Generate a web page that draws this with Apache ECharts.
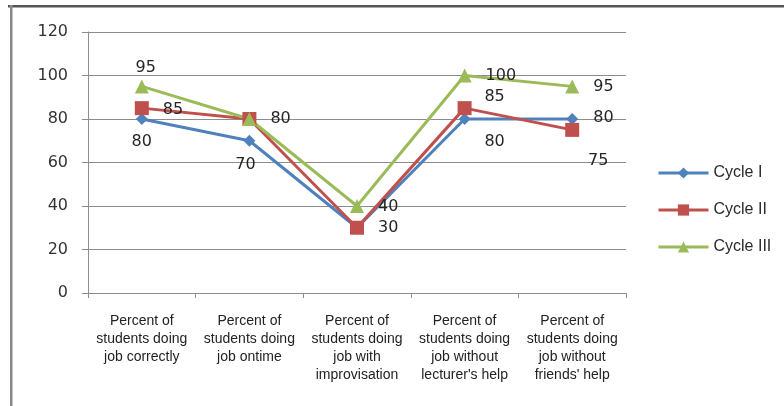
<!DOCTYPE html>
<html>
<head>
<meta charset="utf-8">
<script src="https://cdn.jsdelivr.net/npm/echarts@6/dist/echarts.min.js"></script>
<style>
  html, body { margin: 0; padding: 0; background: #fff; }
  #chart { width: 784px; height: 406px; }
</style>
</head>
<body>
<div id="chart"></div>
<script>
// Categories and the three observation cycles (percent of students)
const categories = [
  "Percent of\nstudents doing\njob correctly",
  "Percent of\nstudents doing\njob ontime",
  "Percent of\nstudents doing\njob with\nimprovisation",
  "Percent of\nstudents doing\njob without\nlecturer's help",
  "Percent of\nstudents doing\njob without\nfriends' help"
];
const cycleI   = [80, 70, 30, 80, 80];
const cycleII  = [85, 80, 30, 85, 75];
const cycleIII = [95, 80, 40, 100, 95];
const yTicks   = [0, 20, 40, 60, 80, 100, 120];

// Where each value label sits: 'r' = to the right of the marker (dy),
// 'c' = centred on the marker then shifted (dx, dy), null = no label.
const placeI   = [['c', 0, 23], ['c', -4, 24], null, ['c', 30, 23], ['r', -1]];
const placeII  = [['r', 2], null, ['r', 0], ['c', 30, -11], ['c', 26, 31]];
const placeIII = [['c', 4, -19], ['r', 0], ['r', 1], ['r', 0], ['r', 0]];

const labelFont = { fontFamily: 'DejaVu Sans', fontSize: 16, color: '#262626' };

function points(values, place, symbolSize) {
  return values.map((v, i) => {
    const p = place[i];
    if (!p) return { value: v, label: { show: false } };
    if (p[0] === 'r') {
      return { value: v, label: Object.assign({
        show: true, position: 'right', distance: 0,
        offset: [21 - symbolSize / 2, p[1]]
      }, labelFont) };
    }
    return { value: v, label: Object.assign({
      show: true, position: 'inside', offset: [p[1], p[2]]
    }, labelFont) };
  });
}

function lineSeries(name, values, place, color, symbol, size) {
  return {
    name: name,
    type: 'line',
    data: points(values, place, size),
    symbol: symbol,
    symbolSize: size,
    showAllSymbol: true,
    lineStyle: { color: color, width: 3 },
    itemStyle: { color: color, borderWidth: 0 },
    emphasis: { disabled: true },
    animation: false
  };
}

const chart = echarts.init(document.getElementById('chart'), null, { renderer: 'canvas' });
chart.setOption({
  backgroundColor: '#ffffff',
  animation: false,
  grid: { left: 88, right: 158, top: 32, bottom: 113, containLabel: false },
  xAxis: {
    type: 'category',
    data: categories,
    boundaryGap: true,
    axisLine: { lineStyle: { color: '#8c8c8c', width: 1 } },
    axisTick: { show: true, length: 5, alignWithLabel: false, lineStyle: { color: '#8c8c8c' } },
    axisLabel: {
      interval: 0, margin: 19,
      fontFamily: 'Liberation Sans', fontSize: 14, lineHeight: 18,
      color: '#222222', align: 'center'
    },
    splitLine: { show: false }
  },
  yAxis: {
    type: 'value',
    min: yTicks[0],
    max: yTicks[yTicks.length - 1],
    interval: yTicks[1] - yTicks[0],
    axisLine: { show: true, lineStyle: { color: '#8c8c8c', width: 1 } },
    axisTick: { show: true, length: 6, lineStyle: { color: '#8c8c8c' } },
    axisLabel: { margin: 20, fontFamily: 'DejaVu Sans', fontSize: 16, color: '#333333' },
    splitLine: { show: true, lineStyle: { color: '#8c8c8c', width: 1 } }
  },
  legend: {
    orient: 'vertical',
    left: 652,
    top: 160,
    itemWidth: 50,
    itemHeight: 14,
    itemGap: 21,
    selectedMode: false,
    lineStyle: { width: 3 },
    textStyle: { fontFamily: 'Liberation Sans', fontSize: 16, lineHeight: 16, color: '#2a2a2a' },
    data: ['Cycle I', 'Cycle II', 'Cycle III']
  },
  graphic: [
    { type: 'rect', shape: { x: 8, y: 5, width: 776, height: 2.5 }, style: { fill: '#555555' }, silent: true },
    { type: 'rect', shape: { x: 10, y: 5, width: 2.5, height: 401 }, style: { fill: '#8a8a8a' }, silent: true }
  ],
  series: [
    lineSeries('Cycle I', cycleI, placeI, '#4F81BD', 'diamond', 12),
    lineSeries('Cycle II', cycleII, placeII, '#C0504D', 'rect', 14),
    lineSeries('Cycle III', cycleIII, placeIII, '#9BBB59', 'triangle', 14)
  ]
});
</script>
</body>
</html>
